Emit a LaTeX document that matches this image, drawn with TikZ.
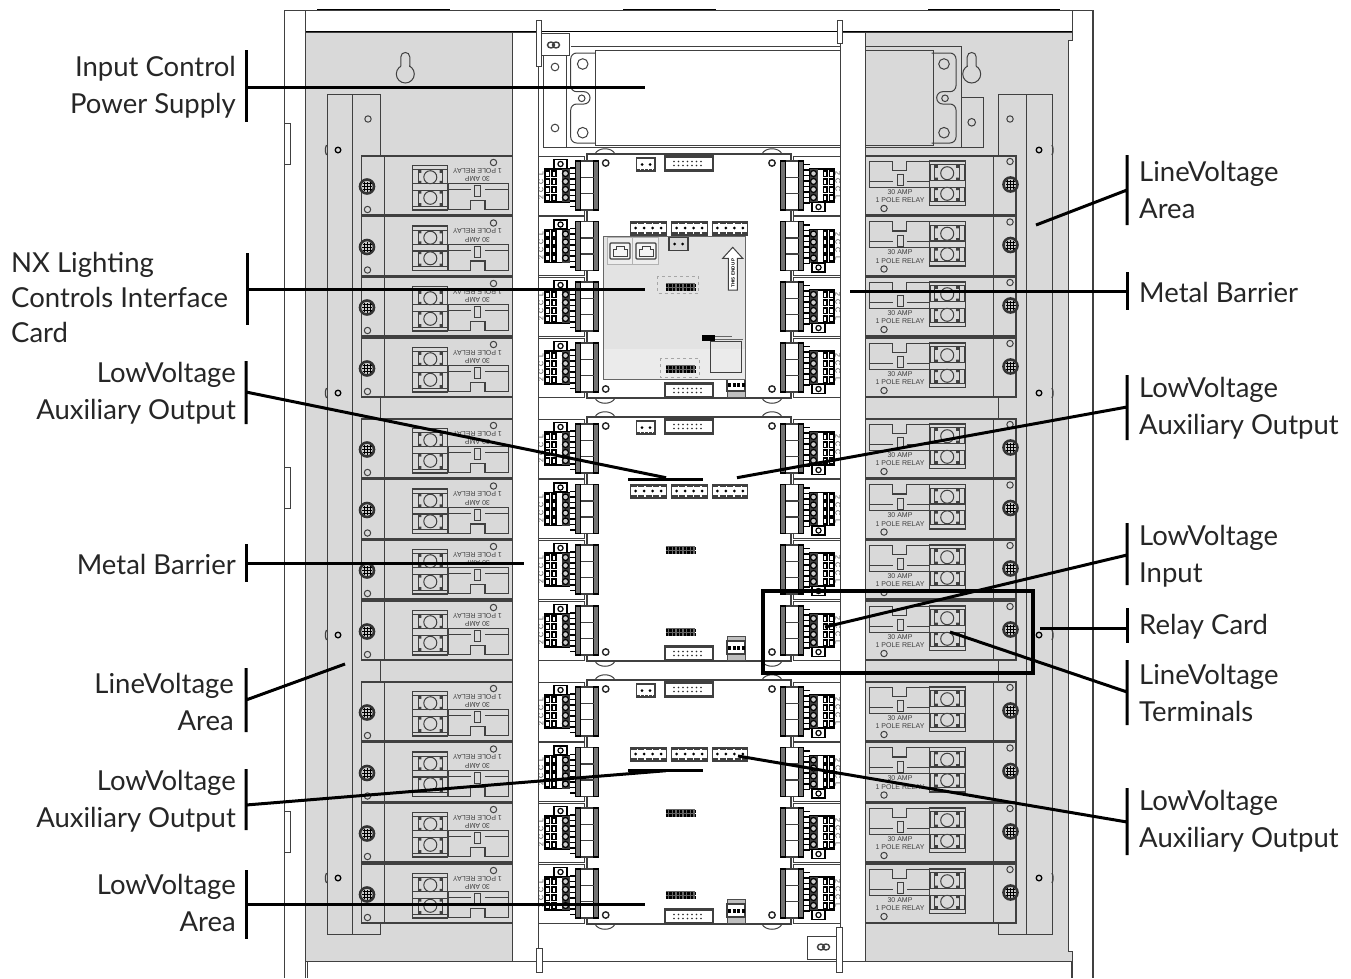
\documentclass[tikz,border=0pt]{standalone}
\usepackage{fontspec}
\setmainfont{Lato}
\newfontfamily\smallsans{Liberation Sans}
\definecolor{panelgrey}{HTML}{D9D9D9}
\definecolor{linegrey}{HTML}{404040}
\newcommand{\vsp}{\hspace{-0.33em}}
\tikzset{
	part/.style={draw=linegrey, line width=1pt},
	leader/.style={draw=black, line width=3pt},
	lbl/.style={font=\fontsize{27.5}{37}\selectfont, inner sep=0pt, text=black!85},
	lblleft/.style={lbl, anchor=east, align=right},
	lblright/.style={lbl, anchor=west, align=left},
	tiny/.style={font=\smallsans\fontsize{7}{7}\selectfont, inner sep=0pt, text=linegrey}
}
% relay card, drawn the right way up about its centre
\newcommand{\relaycard}[4]{
	\begin{scope}[shift={(#1,#2)}, rotate=#3]
		\draw[part, line width=1.3pt, fill=panelgrey] (-75.5,-29.5) rectangle (75.5,29.5);
		\draw[part] (52.5,-29.5) -- (52.5,29.5);
		\draw[black!80, line width=2.6pt, fill=black!20] (70,-1) circle (7);
		\draw[black, line width=0.9pt] (65,-1) -- (75,-1) (70,-6) -- (70,4) (67,-5.5) -- (67,3.5) (73,-5.5) -- (73,3.5) (65.5,-4) -- (74.5,-4) (65.5,2) -- (74.5,2);
		\draw[part] (69.5,-24) circle (3.2);
		\draw[part] (-56.5,23) circle (3.2);
		\draw[part, line width=1.2pt] (-71.3,-24.3) -- (-48,-24.3) -- (-48,-15) -- (-33.7,-15) -- (-33.7,-24.3) -- (-11,-24.3) -- (-11,1.7) -- (-71.3,1.7) -- cycle;
		\draw[part] (-71.3,-4.3) -- (-48,-4.3) (-33.7,-4.3) -- (-11,-4.3);
		\draw[part, fill=panelgrey] (-43,-11) rectangle (-37.3,0);
		\draw[part, line width=1.5pt, fill=panelgrey] (-10.7,-24.3) rectangle (24.7,20);
		\draw[part, line width=1.2pt, fill=panelgrey] (-10.7,-5) rectangle (24.7,1.7);
		\draw[part, line width=1.2pt, fill=panelgrey] (-10.7,-24.3) rectangle (24.7,-20.7);
		\draw[part, line width=1.2pt, fill=panelgrey] (-10.7,15.7) rectangle (24.7,20);
		\draw[part, line width=1.2pt] (-5.7,-20.7) rectangle (18.7,-5) (-5.7,1.7) rectangle (18.7,15.7);
		\fill[linegrey] (-5.7,-20.7) rectangle ++(3,3) (15.7,-20.7) rectangle ++(3,3) (-5.7,-8) rectangle ++(3,3) (15.7,-8) rectangle ++(3,3);
		\fill[linegrey] (-5.7,1.7) rectangle ++(3,3) (15.7,1.7) rectangle ++(3,3) (-5.7,12.7) rectangle ++(3,3) (15.7,12.7) rectangle ++(3,3);
		\draw[part, fill=black!15] (6.7,-12.3) circle (6.5) (6.7,8.3) circle (6.5);
		\node[tiny, rotate=#3] (amp#4) at (-40.5,6.5) {30 AMP};
		\node[tiny, rotate=#3] (pole#4) at (-40.5,15) {1 POLE RELAY};
	\end{scope}
}
% plug with its small terminal strip and button
\newcommand{\plugblock}[4]{
	\begin{scope}[shift={(#1,#2)}, rotate=#3]
		\foreach \k in {-21,-15.5,...,22} {
			\draw[black, line width=1.2pt] (11,\k) -- (17.5,\k);
		}
		\draw[linegrey, line width=1.3pt, fill=white] (-6.5,-24.5) rectangle (6.5,24.5);
		\draw[black, line width=1.2pt, fill=black!55] (-11.3,-24.5) rectangle (-6.5,24.5);
		\draw[black, line width=1.2pt, fill=black!55] (6.5,-24.5) rectangle (11.3,24.5);
		\draw[linegrey, line width=1.3pt] (-6.5,-8) -- (6.5,-8) (-6.5,8) -- (6.5,8);
		\draw[black, line width=1.2pt, fill=white] (17.5,-16.5) rectangle (42,16.5);
		\fill[black!75] (17.5,-16.5) rectangle (25.5,16.5);
		\foreach \k in {-12,-4,4,12} {
			\draw[black, line width=1.2pt, fill=black!20] (21.5,\k) circle (3);
			\fill[black] (30.5,\k-3.7) rectangle (35.8,\k+3.7);
			\fill[black] (36.7,\k-3.7) rectangle (42,\k+3.7);
			\fill[white] (32,\k-2) rectangle (34.4,\k+2);
			\fill[white] (38.2,\k-2) rectangle (40.6,\k+2);
		}
		\draw[black, line width=1.2pt, fill=white] (20,17) rectangle (33,26);
		\draw[black, line width=1.2pt] (26.5,21.5) circle (2.6);
		\node[tiny, rotate=#3-90] (code#4a) at (46,-12) {2};
		\node[tiny, rotate=#3-90] (code#4b) at (46,-4) {C};
		\node[tiny, rotate=#3-90] (code#4c) at (46,4) {C};
		\node[tiny, rotate=#3-90] (code#4d) at (46,12) {L};
	\end{scope}
}
\newcommand{\fourpin}[2]{
	\draw[linegrey, line width=1.3pt, fill=white] (#1,#2) rectangle ++(35.5,13);
	\draw[black!75, line width=3pt, dash pattern=on 6pt off 1.5pt] (#1,#2+11.5) -- ++(35.5,0);
	\draw[black!75, line width=1.8pt, dash pattern=on 6pt off 1.5pt] (#1,#2+1) -- ++(35.5,0);
	\foreach \k in {5,13.5,22,30.5} {
		\fill[black] (#1+\k,#2+6) circle (1.5);
	}
}
\newcommand{\ribbon}[2]{
	\draw[linegrey, line width=2.2pt, fill=white] (#1,#2) rectangle ++(48,14);
	\foreach \k in {9,13.5,...,40} {
		\fill[black!85] (#1+\k,#2+5) circle (0.95);
		\fill[black!85] (#1+\k,#2+9) circle (0.95);
	}
}
\newcommand{\pincomb}[2]{
	\fill[black!60] (#1,#2) rectangle ++(29,8);
	\draw[black, line width=3pt, dash pattern=on 2.3pt off 1.3pt] (#1,#2+2) -- ++(29,0);
	\draw[black, line width=3pt, dash pattern=on 2.3pt off 1.3pt] (#1,#2+6) -- ++(29,0);
}
\newcommand{\boardunit}[1]{
	\begin{scope}[shift={(0,#1)}]
		\foreach \bx in {595,762} {
			\draw[part] (\bx,154) .. controls (\bx+3,147) and (\bx+17,147) .. (\bx+20,154);
			\draw[part] (\bx,398) .. controls (\bx+3,405) and (\bx+17,405) .. (\bx+20,398);
		}
		\draw[part, line width=1.2pt, fill=white] (587,154) rectangle (791,398);
		\foreach \bx in {605.7,772} {
			\draw[black!85, line width=1.4pt] (\bx,163) circle (3.2);
			\draw[black!85, line width=1.4pt] (\bx,389) circle (3.2);
		}
		\draw[linegrey, line width=1.3pt, fill=white] (636.7,158) rectangle (655,171);
		\fill[black] (642,164.5) circle (1.5) (650,164.5) circle (1.5);
		\draw[black!75, line width=2.5pt, dash pattern=on 3pt off 1pt] (637,170) -- (655,170);
		\ribbon{665}{156.5}
		\fourpin{630.7}{222}
		\fourpin{671.7}{222}
		\fourpin{712.3}{222}
		\pincomb{665.7}{283}
		\pincomb{665.7}{365}
		\ribbon{665}{383.5}
		\draw[black!70, line width=1pt, fill=black!25] (727,373) rectangle (745,397);
		\draw[linegrey, line width=1.2pt, fill=white] (727,378) rectangle (745,391);
		\draw[black, line width=4pt, dash pattern=on 3pt off 1.5pt] (728,384.5) -- (745,384.5);
	\end{scope}
}
\begin{document}
\begin{tikzpicture}[x=1pt, y=-1pt]
	\useasboundingbox (0,0) rectangle (1351,978);
	\fill[white] (0,0) rectangle (1351,978);

	% cabinet
	\draw[part, fill=panelgrey] (305,32) -- (1072.5,32) -- (1072.5,40.5) -- (1068,40.5) -- (1068,951) -- (1072.5,951) -- (1072.5,961.7) -- (305,961.7) -- cycle;
	\draw[part] (284,10) -- (1093,10);
	\draw[part] (284,10) -- (284,978);
	\draw[linegrey, line width=2.2pt] (1093,10) -- (1093,978);
	\draw[black, line width=1.3pt] (305,31.5) -- (1072.5,31.5);
	\draw[part] (305,10) -- (305,32) (1072.5,10) -- (1072.5,32);
	\draw[part] (305,961.7) -- (305,978) (307,961.7) -- (307,978);
	\draw[part] (1071,961.7) -- (1071,978) (1072.7,961.7) -- (1072.7,978);
	\draw[black, line width=1.4pt] (317,9.3) -- (450,9.3) (623,9.3) -- (716,9.3) (928,9.3) -- (1060,9.3);
	\foreach \ty in {123,467,811} {
		\draw[part, fill=white] (284,\ty) rectangle (290,\ty+41);
	}

	% keyholes
	\foreach \kx in {405.3,971.7} {
		\draw[part] (\kx,74) circle (9);
		\fill[panelgrey] (\kx-4,62) rectangle (\kx+4,68);
		\draw[part] (\kx-4.5,66.3) -- (\kx-4.5,57) .. controls (\kx-4.5,51) and (\kx+4.5,51) .. (\kx+4.5,57) -- (\kx+4.5,66.3);
	}

	% side rails
	\draw[part] (327,94) rectangle (352,934);
	\draw[part] (352,94) rectangle (380,934);
	\draw[part] (998,94) rectangle (1026,934);
	\draw[part] (1026,94) rectangle (1052,934);
	\draw[part] (368,119) circle (3.2);
	\draw[part] (1010,119) circle (3.2);
	\foreach \ry in {150,393,635,878} {
		\draw[black, line width=1.3pt] (338,\ry) circle (2.8);
		\draw[black, line width=1.3pt] (1039,\ry) circle (2.8);
		\draw[linegrey, line width=1.2pt] (326.5,\ry-5) .. controls (325,\ry-2) and (325,\ry+2) .. (326.5,\ry+5);
		\draw[linegrey, line width=1.2pt] (1052,\ry-5) .. controls (1053.5,\ry-2) and (1053.5,\ry+2) .. (1052,\ry+5);
	}

	% centre panel and power supply
	\fill[white] (538,32) rectangle (840,961);
	\draw[part] (538,961) -- (840,961);
	\draw[part] (571,46.7) -- (961,46.7) -- (961,147.7) -- (543.3,147.7) -- (543.3,55);
	\draw[part] (566,55) -- (566,147.7);
	\draw[part] (595,50.7) rectangle (933,145.7);
	\draw[part] (555,67) circle (3.8) (555,128) circle (3.8);
	\draw[part] (961,97.3) rectangle (983.3,147.7);
	\draw[part] (971.7,122.3) circle (3.8);
	\draw[part, rounded corners=6pt] (595,53) -- (570.7,53) -- (570.7,91.7) -- (590,91.7) -- (590,104) -- (570.7,104) -- (570.7,143) -- (595,143);
	\draw[part] (582.7,64) circle (5.3) (582.7,132.7) circle (5.3) (581.7,98.3) circle (3.3);
	\begin{scope}[shift={(1526.7,0)}, xscale=-1]
		\draw[part, rounded corners=6pt] (595,53) -- (570.7,53) -- (570.7,91.7) -- (590,91.7) -- (590,104) -- (570.7,104) -- (570.7,143) -- (595,143);
		\draw[part] (582.7,64) circle (5.3) (582.7,132.7) circle (5.3) (581.7,98.3) circle (3.3);
	\end{scope}

	% boards
	\boardunit{0}
	\boardunit{263}
	\boardunit{526}

	% interface card on the first board
	\draw[black!60, line width=0.8pt, fill=black!11] (603.3,236.7) rectangle (745.7,379);
	\fill[black!8] (604,349) rectangle (745,378.5);
	\draw[black!30, fill=black!7] (607.5,237) rectangle (632,264.5);
	\draw[black!30, fill=black!7] (632,237) rectangle (658,264.5);
	\foreach \jx in {610,636} {
		\draw[linegrey, line width=1.2pt, fill=black!4, rounded corners=1pt] (\jx,243) rectangle (\jx+20,259);
		\draw[linegrey, line width=0.8pt] (\jx+3,256) -- (\jx+3,249) -- (\jx+6,249) -- (\jx+6,246) -- (\jx+14,246) -- (\jx+14,249) -- (\jx+17,249) -- (\jx+17,256) -- cycle;
	}
	\draw[linegrey, line width=1.3pt, fill=panelgrey] (669,237.5) rectangle (688,250.5);
	\fill[black] (674.5,244) circle (1.5) (682.5,244) circle (1.5);
	\draw[linegrey, line width=1pt, fill=white] (732.7,247.3) -- (742.7,258.3) -- (737.3,258.3) -- (737.3,290) -- (728.3,290) -- (728.3,258.3) -- (722.7,258.3) -- cycle;
	\node[tiny, font=\smallsans\bfseries\fontsize{4.5}{4.5}\selectfont, rotate=90, text=black] (endUp) at (733,273) {THIS END UP};
	\draw[black!35, line width=0.8pt, dashed] (657.5,276) rectangle (698,293);
	\draw[black!35, line width=0.8pt, dashed] (660,358) rectangle (699,377);
	\pincomb{665.7}{283}
	\pincomb{665.7}{365}
	\fill[black] (702,335) rectangle (715,341);
	\draw[black!60, line width=0.5pt] (715,339.5) -- (743,339.5) (715,336) -- (732,336);
	\draw[linegrey, line width=0.9pt] (710,341) rectangle (741,372);

	% row contents
	\foreach \g/\go in {0/0,1/263,2/526} {
		\foreach \r/\ry in {0/185.5,1/246,2/306.5,3/367.5} {
			\pgfmathsetmacro{\cy}{\ry+\go}
			\draw[part] (538,\cy-29.5) rectangle (584.5,\cy+29.5);
			\draw[part] (793,\cy-29.5) rectangle (840,\cy+29.5);
			\relaycard{437}{\cy}{180}{L\g\r}
			\relaycard{940.5}{\cy}{0}{R\g\r}
			\plugblock{587}{\cy}{180}{L\g\r}
			\plugblock{792}{\cy}{0}{R\g\r}
		}
	}

	% barriers
	\draw[part, fill=white] (512,32) -- (538,32) -- (538,961) -- (512,961) -- cycle;
	\draw[part, fill=white] (840,32) -- (865,32) -- (865,961) -- (840,961) -- cycle;
	\draw[part, fill=white] (538,33) rectangle (569,55);
	\draw[part, line width=1.4pt] (551,45) ellipse (3.5 and 3) (556,45) ellipse (3.5 and 3);
	\draw[part, fill=white] (536.3,20) rectangle (541,66);
	\draw[part, fill=white] (837,20) rectangle (842,43);
	\draw[part, fill=white] (807,936) rectangle (839,959);
	\draw[part, line width=1.4pt] (821,947) ellipse (3.5 and 3) (826,947) ellipse (3.5 and 3);
	\draw[part, fill=white] (836,927) rectangle (842,972);
	\draw[part, fill=white] (536,948) rectangle (542,972);

	% highlighted relay card
	\draw[black, line width=4pt] (763,591) rectangle (1033,673);

	% labels on the left
	\node[lblleft] (lblInput) at (236,87) {Input Control\\Power Supply};
	\node[lbl, anchor=west, align=left, font=\fontsize{27.5}{35}\selectfont] (lblCard) at (11,297) {NX Lighting\\Controls Interface\\Card};
	\node[lblleft] (lblAuxA) at (236,393.5) {Low \vsp Voltage\\Auxiliary Output};
	\node[lblleft] (lblBarrierA) at (236,564) {Metal Barrier};
	\node[lblleft] (lblAreaA) at (234,701.5) {Line \vsp Voltage\\Area};
	\node[lblleft] (lblAuxB) at (236,801.5) {Low \vsp Voltage\\Auxiliary Output};
	\node[lblleft] (lblLowArea) at (236,902.5) {Low \vsp Voltage\\Area};

	% labels on the right
	\node[lblright] (lblAreaB) at (1139,190) {Line \vsp Voltage\\Area};
	\node[lblright] (lblBarrierB) at (1139,292) {Metal Barrier};
	\node[lblright] (lblAuxC) at (1139,408) {Low \vsp Voltage\\Auxiliary Output};
	\node[lblright] (lblInputLv) at (1139,556) {Low \vsp Voltage\\Input};
	\node[lblright] (lblRelay) at (1139,627) {Relay Card};
	\node[lblright] (lblTerm) at (1139,693) {Line \vsp Voltage\\Terminals};
	\node[lblright] (lblAuxD) at (1139,821.5) {Low \vsp Voltage\\Auxiliary Output};

	% leaders
	\coordinate (inputEnd) at (645,87);
	\coordinate (cardEnd) at (645,289);
	\coordinate (auxAEnd) at (666,477.7);
	\coordinate (barrierAEnd) at (524,563);
	\coordinate (areaAEnd) at (345,664);
	\coordinate (auxBEnd) at (666,770.7);
	\coordinate (lowAreaEnd) at (645,904);
	\coordinate (areaBEnd) at (1036,225);
	\coordinate (barrierBEnd) at (850,291);
	\coordinate (auxCEnd) at (737,477.7);
	\coordinate (inputLvEnd) at (825,627);
	\coordinate (relayEnd) at (1040,628);
	\coordinate (termEnd) at (950,632);
	\coordinate (auxDEnd) at (738,756);

	\draw[leader] (246,50) -- (246,122) (246,87) -- (inputEnd);
	\draw[leader] (247,253) -- (247,325) (247,289) -- (cardEnd);
	\draw[leader] (246,361) -- (246,424) (246,392) -- (auxAEnd);
	\draw[leader] (628,479) -- (703,479);
	\draw[leader] (246,544) -- (246,582) (246,563) -- (barrierAEnd);
	\draw[leader] (246,668) -- (246,732) (246,700) -- (areaAEnd);
	\draw[leader] (246,769) -- (246,830) (246,805) -- (auxBEnd);
	\draw[leader] (628,770) -- (703,770);
	\draw[leader] (246,870) -- (246,939) (246,904) -- (lowAreaEnd);
	\draw[leader] (1127,155) -- (1127,225) (1127,190) -- (areaBEnd);
	\draw[leader] (1127,272) -- (1127,310) (1127,291) -- (barrierBEnd);
	\draw[leader] (1127,375) -- (1127,440) (1127,407) -- (auxCEnd);
	\draw[leader] (1127,523) -- (1127,585) (1127,555) -- (inputLvEnd);
	\draw[leader] (1127,608) -- (1127,643) (1127,628) -- (relayEnd);
	\draw[leader] (1127,660) -- (1127,725) (1127,692) -- (termEnd);
	\draw[leader] (1127,788) -- (1127,855) (1127,822) -- (auxDEnd);
\end{tikzpicture}
\end{document}
